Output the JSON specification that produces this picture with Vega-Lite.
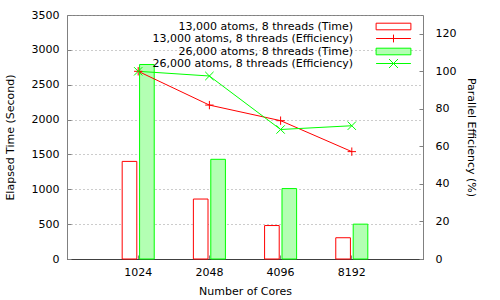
{
  "$schema": "https://vega.github.io/schema/vega-lite/v6.json",
  "width": 356,
  "height": 244,
  "autosize": {"type": "none"},
  "padding": {"left": 67, "top": 15, "right": 77, "bottom": 41},
  "config": {
    "font": "DejaVu Sans",
    "view": {"stroke": "#808080", "strokeWidth": 1},
    "axis": {
      "labelFont": "DejaVu Sans",
      "labelFontSize": 11,
      "labelColor": "#000000",
      "titleFont": "DejaVu Sans",
      "titleFontSize": 11,
      "titleFontWeight": "normal",
      "titleColor": "#000000",
      "tickColor": "#808080"
    },
    "legend": {
      "labelFont": "DejaVu Sans",
      "labelFontSize": 11,
      "labelColor": "#000000",
      "symbolSize": 144,
      "symbolStrokeWidth": 1,
      "rowPadding": -4,
      "labelAlign": "right",
      "labelOffset": -47,
      "labelLimit": 400,
      "padding": 0
    }
  },
  "datasets": {
    "time": [
      {"cores": "1024", "series": "13,000 atoms, 8 threads (Time)", "time": 1400},
      {"cores": "1024", "series": "26,000 atoms, 8 threads (Time)", "time": 2790},
      {"cores": "2048", "series": "13,000 atoms, 8 threads (Time)", "time": 860},
      {"cores": "2048", "series": "26,000 atoms, 8 threads (Time)", "time": 1430},
      {"cores": "4096", "series": "13,000 atoms, 8 threads (Time)", "time": 480},
      {"cores": "4096", "series": "26,000 atoms, 8 threads (Time)", "time": 1010},
      {"cores": "8192", "series": "13,000 atoms, 8 threads (Time)", "time": 305},
      {"cores": "8192", "series": "26,000 atoms, 8 threads (Time)", "time": 500}
    ],
    "eff": [
      {"cores": "1024", "series": "13,000 atoms, 8 threads (Efficiency)", "eff": 100},
      {"cores": "2048", "series": "13,000 atoms, 8 threads (Efficiency)", "eff": 82},
      {"cores": "4096", "series": "13,000 atoms, 8 threads (Efficiency)", "eff": 73.7},
      {"cores": "8192", "series": "13,000 atoms, 8 threads (Efficiency)", "eff": 57.2},
      {"cores": "1024", "series": "26,000 atoms, 8 threads (Efficiency)", "eff": 100},
      {"cores": "2048", "series": "26,000 atoms, 8 threads (Efficiency)", "eff": 97.5},
      {"cores": "4096", "series": "26,000 atoms, 8 threads (Efficiency)", "eff": 69},
      {"cores": "8192", "series": "26,000 atoms, 8 threads (Efficiency)", "eff": 71}
    ]
  },
  "layer": [
    {
      "data": {"name": "time"},
      "mark": {"type": "bar", "strokeWidth": 1},
      "encoding": {
        "x": {
          "field": "cores",
          "type": "nominal",
          "sort": ["1024", "2048", "4096", "8192"],
          "scale": {"paddingInner": 0.55, "paddingOuter": 0.775},
          "axis": {
            "title": "Number of Cores",
            "labelAngle": 0,
            "ticks": true,
            "tickSize": -4,
            "labelPadding": 11,
            "titlePadding": 8,
            "domainColor": "#404040",
            "domainWidth": 1
          }
        },
        "xOffset": {
          "field": "series",
          "type": "nominal",
          "scale": {"paddingInner": 0.16, "paddingOuter": 0}
        },
        "y": {
          "field": "time",
          "type": "quantitative",
          "scale": {"domain": [0, 3500], "nice": false},
          "axis": {
            "title": "Elapsed Time (Second)",
            "format": "d",
            "values": [0, 500, 1000, 1500, 2000, 2500, 3000, 3500],
            "grid": true,
            "gridDash": [1, 3],
            "gridColor": "#999999",
            "domain": false,
            "ticks": true,
            "tickSize": -4,
            "labelPadding": 12,
            "titlePadding": 16
          }
        },
        "stroke": {
          "field": "series",
          "type": "nominal",
          "scale": {
            "domain": [
              "13,000 atoms, 8 threads (Time)",
              "13,000 atoms, 8 threads (Efficiency)",
              "26,000 atoms, 8 threads (Time)",
              "26,000 atoms, 8 threads (Efficiency)"
            ],
            "range": ["#ff0000", "#ff0000", "#00ff00", "#00ff00"]
          },
          "legend": {
            "title": null,
            "orient": "none",
            "legendX": 320,
            "legendY": 5,
            "encode": {
              "symbols": {
                "update": {
                  "shape": {"signal": "indexof(datum.value, 'Efficiency') >= 0 ? (indexof(datum.value, '13,000') >= 0 ? 'M-2.9,0H2.9M0,-0.65V0.65' : 'M-2.9,0H2.9M-0.75,-0.75L0.75,0.75M-0.75,0.75L0.75,-0.75') : 'M-2.9,-0.55H2.9V0.55H-2.9Z'"},
                  "fill": {"signal": "datum.value == '26,000 atoms, 8 threads (Time)' ? '#b3ffb3' : 'rgba(255,255,255,0)'"},
                  "strokeWidth": {"value": 1}
                }
              }
            }
          }
        },
        "fill": {
          "field": "series",
          "type": "nominal",
          "scale": {
            "domain": ["13,000 atoms, 8 threads (Time)", "26,000 atoms, 8 threads (Time)"],
            "range": ["#ffffff", "#b3ffb3"]
          },
          "legend": null
        }
      }
    },
    {
      "data": {"name": "eff"},
      "layer": [
        {
          "mark": {"type": "line", "strokeWidth": 1},
          "encoding": {
            "x": {"field": "cores", "type": "nominal", "sort": ["1024", "2048", "4096", "8192"]},
            "y": {
              "field": "eff",
              "type": "quantitative",
              "scale": {"domain": [0, 130], "nice": false},
              "axis": {
                "orient": "right",
                "title": "Parallel Efficiency (%)",
                "values": [0, 20, 40, 60, 80, 100, 120],
                "grid": false,
                "domain": false,
                "ticks": true,
                "tickSize": -4,
                "labelPadding": 16,
                "titlePadding": 10
              }
            },
            "stroke": {
              "field": "series",
              "type": "nominal",
              "legend": {
                "title": null,
                "orient": "none",
                "legendX": 320,
                "legendY": 5,
                "encode": {
                  "symbols": {
                    "update": {
                      "shape": {"signal": "indexof(datum.value, 'Efficiency') >= 0 ? (indexof(datum.value, '13,000') >= 0 ? 'M-2.9,0H2.9M0,-0.65V0.65' : 'M-2.9,0H2.9M-0.75,-0.75L0.75,0.75M-0.75,0.75L0.75,-0.75') : 'M-2.9,-0.55H2.9V0.55H-2.9Z'"},
                      "fill": {"signal": "datum.value == '26,000 atoms, 8 threads (Time)' ? '#b3ffb3' : 'rgba(255,255,255,0)'"},
                      "strokeWidth": {"value": 1}
                    }
                  }
                }
              }
            }
          }
        },
        {
          "mark": {"type": "point", "filled": false, "strokeWidth": 1, "size": 70, "opacity": 1},
          "encoding": {
            "x": {"field": "cores", "type": "nominal", "sort": ["1024", "2048", "4096", "8192"]},
            "y": {"field": "eff", "type": "quantitative"},
            "stroke": {
              "field": "series",
              "type": "nominal",
              "legend": {
                "title": null,
                "orient": "none",
                "legendX": 320,
                "legendY": 5,
                "encode": {
                  "symbols": {
                    "update": {
                      "shape": {"signal": "indexof(datum.value, 'Efficiency') >= 0 ? (indexof(datum.value, '13,000') >= 0 ? 'M-2.9,0H2.9M0,-0.65V0.65' : 'M-2.9,0H2.9M-0.75,-0.75L0.75,0.75M-0.75,0.75L0.75,-0.75') : 'M-2.9,-0.55H2.9V0.55H-2.9Z'"},
                      "fill": {"signal": "datum.value == '26,000 atoms, 8 threads (Time)' ? '#b3ffb3' : 'rgba(255,255,255,0)'"},
                      "strokeWidth": {"value": 1}
                    }
                  }
                }
              }
            },
            "shape": {
              "field": "series",
              "type": "nominal",
              "scale": {
                "domain": ["13,000 atoms, 8 threads (Efficiency)", "26,000 atoms, 8 threads (Efficiency)"],
                "range": ["M-1,0H1M0,-1V1", "M-1,-1L1,1M-1,1L1,-1"]
              },
              "legend": null
            }
          }
        }
      ]
    }
  ],
  "resolve": {"scale": {"y": "independent"}}
}
